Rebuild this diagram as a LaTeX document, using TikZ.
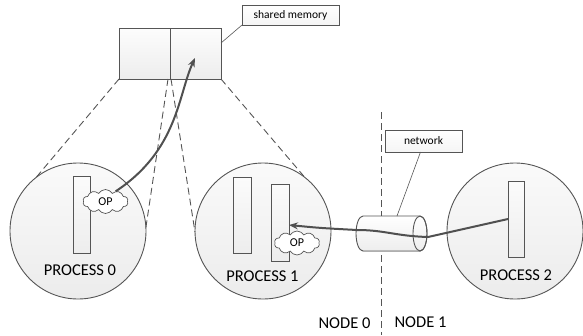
\documentclass[tikz,border=0pt]{standalone}
\usepackage{fontspec}
\setmainfont{Carlito}
\usetikzlibrary{shapes.symbols,arrows.meta}
\definecolor{strk}{HTML}{555555}
\definecolor{arr}{HTML}{505050}
\begin{document}
\begin{tikzpicture}[x=1pt,y=-1pt,
  proc/.style={circle,draw=strk,line width=0.9pt,top color=gray!4,bottom color=gray!15,minimum size=136pt,inner sep=0pt,outer sep=0pt},
  bar/.style={rectangle,draw=strk,line width=0.9pt,top color=gray!3,bottom color=gray!14,inner sep=0pt,outer sep=0pt},
  cell/.style={rectangle,draw=strk,line width=0.9pt,top color=gray!2,bottom color=gray!14,minimum width=51pt,minimum height=51pt,inner sep=0pt,outer sep=0pt},
  lbl/.style={rectangle,draw=strk,line width=0.6pt,top color=white,bottom color=gray!8,inner sep=0pt,outer sep=0pt,font=\fontsize{11.5}{13}\selectfont},
  opcloud/.style={cloud,cloud puffs=10,cloud puff arc=120,aspect=2,draw=strk,line width=0.7pt,fill=white,minimum width=45pt,minimum height=24pt,inner sep=0pt,font=\fontsize{12}{14}\selectfont},
  big/.style={font=\fontsize{16.5}{19}\selectfont},
  zoomline/.style={draw=strk,line width=0.9pt,dash pattern=on 7pt off 4pt},
  flow/.style={draw=arr,line width=2pt,-{Stealth[length=9pt,width=7pt]}},
  leader/.style={draw=strk,line width=0.6pt}]
\useasboundingbox (0,0) rectangle (583,335);

% shared memory
\node[cell] (sm0) at (144.5,53.5) {};
\node[cell] (sm1) at (195.5,53.5) {};
\node[lbl,minimum width=97pt,minimum height=20pt] (lsm) at (290.5,15) {shared memory};
\coordinate (smlead) at (221,43);
\draw[leader] (smlead) -- (lsm.south west);

% processes
\node[proc] (c0) at (78,231) {};
\node[proc] (c1) at (263,231) {};
\node[proc] (c2) at (515,231) {};

\node[bar,minimum width=17pt,minimum height=77pt] (b0) at (81.5,214.5) {};
\node[bar,minimum width=18pt,minimum height=76pt] (b1a) at (242,215) {};
\node[bar,minimum width=18pt,minimum height=77pt] (b1b) at (280,222.5) {};
\node[bar,minimum width=16pt,minimum height=76pt] (b2) at (516,219) {};

\node[big] (t0) at (80,270) {PROCESS 0};
\node[big] (t1) at (262.5,276) {PROCESS 1};
\node[big] (t2) at (516,275) {PROCESS 2};

% zoom dashed lines
\coordinate (dl) at (168,79);
\coordinate (dr) at (171,79);
\draw[zoomline] (sm0.south west) -- (c0.128);
\draw[zoomline] (dl) -- (c0.3);
\draw[zoomline] (dr) -- (c1.181);
\draw[zoomline] (sm1.south east) -- (c1.52);

% node separator
\coordinate (septop) at (381,112);
\coordinate (sepbot) at (381,335);
\draw[zoomline] (septop) -- (sepbot);
\node[big] (n0) at (344.5,323) {NODE 0};
\node[big] (n1) at (420.5,322) {NODE 1};

% network cylinder
\filldraw[draw=strk,line width=0.9pt,top color=white,bottom color=gray!14]
  (363,216) -- (420,216) arc[start angle=-90,end angle=90,x radius=7,y radius=17.5]
  -- (363,251) arc[start angle=90,end angle=270,x radius=7,y radius=17.5] -- cycle;
\draw[strk,line width=0.9pt] (420,233.5) ellipse[x radius=7,y radius=17.5];
\coordinate (nettop) at (397,216);
\node[lbl,minimum width=77pt,minimum height=22pt] (lnet) at (423.5,141) {network};
\draw[leader] ([xshift=-3pt]lnet.south) -- (nettop);

% OP clouds
\node[opcloud] (op0) at (105.5,201.5) {OP};
\node[opcloud] (op1) at (297,243) {OP};

% flows
\coordinate (smtip) at (195,58);
\draw[flow] (op0.45) .. controls (178,150) and (178,95) .. (smtip);
\coordinate (w1) at (428,237);
\coordinate (w2) at (357,230);
\coordinate (b1tip) at (289,225);
\draw[flow] (b2.west) -- (w1) .. controls (395,236) and (385,230) .. (w2) .. controls (320,228) .. (b1tip);
\end{tikzpicture}
\end{document}
